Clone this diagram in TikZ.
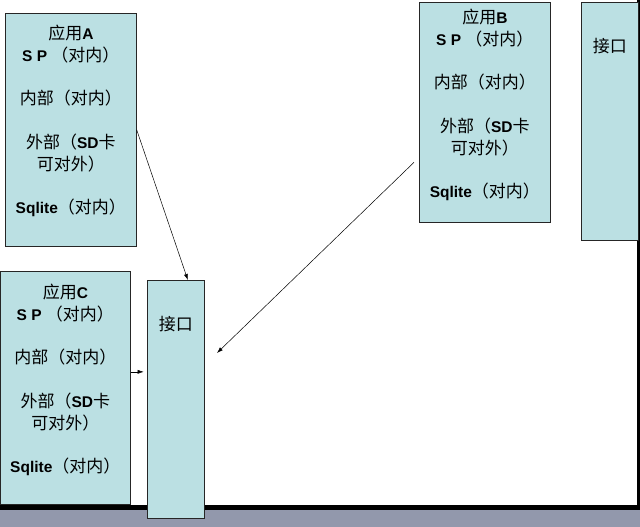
\documentclass[tikz,border=0pt]{standalone}
\usepackage{fontspec}
\setmainfont{Liberation Sans}
\newfontfamily\cjk{Noto Sans CJK SC}
\usetikzlibrary{positioning,arrows.meta}
\definecolor{appblue}{RGB}{187,224,227}
\definecolor{slidegray}{RGB}{146,152,172}
\newcommand{\zh}[1]{{\cjk\mdseries\fontsize{17}{21.75}\selectfont #1}}
\newcommand{\apptxt}[1]{\zh{应用}#1\\S P \zh{（对内）}\\[21.75pt]\zh{内部（对内）}\\[21.75pt]\zh{外部（}SD\zh{卡}\\\zh{可对外）}\\[21.75pt]Sqlite\zh{（对内）}}

\begin{document}
\begin{tikzpicture}[x=1pt,y=-1pt,
	appbox/.style={draw=black!85,fill=appblue,line width=0.7pt,anchor=north west,inner sep=0pt,minimum width=131pt,minimum height=233pt},
	portbox/.style={appbox,minimum width=57pt,minimum height=238pt},
	apptext/.style={align=center,inner sep=0pt,font=\fontsize{15.5}{21.75}\selectfont\bfseries},
	arr/.style={-{Latex[length=6pt,width=4pt]},line width=0.5pt}]
	\useasboundingbox (0,0) rectangle (640,527);
	\fill[slidegray] (0,510) rectangle (640,527);
	\fill[black] (0,505) rectangle (640,510);
	\fill[black] (637,0) rectangle (640,510);
	\node[appbox] (appA) at (5,13) {};
	\node[appbox,minimum height=220pt] (appB) at (419,2) {};
	\node[appbox,minimum width=130pt] (appC) at (0,271) {};
	\node[portbox] (portC) at (147,280) {};
	\node[portbox] (portB) at (581,2) {};
	\node[apptext,below=12pt of appA.north] (txtA) {\apptxt{A}};
	\node[apptext,below=7pt of appB.north] (txtB) {\apptxt{B}};
	\node[apptext,below=13pt of appC.north] (txtC) {\apptxt{C}};
	\node[apptext,below=36pt of portC.north] (txtPortC) {\zh{接口}};
	\node[apptext,below=36pt of portB.north] (txtPortB) {\zh{接口}};
	\coordinate (bOut) at ([xshift=-5pt,yshift=-50pt]appB.west);
	\coordinate (bIn) at (217,353);
	\draw[arr] (appA.east) -- ([xshift=12pt]portC.north);
	\draw[arr] (bOut) -- (bIn);
	\draw[arr] ([yshift=16pt]appC.east) -- ++(13,0);
\end{tikzpicture}
\end{document}
